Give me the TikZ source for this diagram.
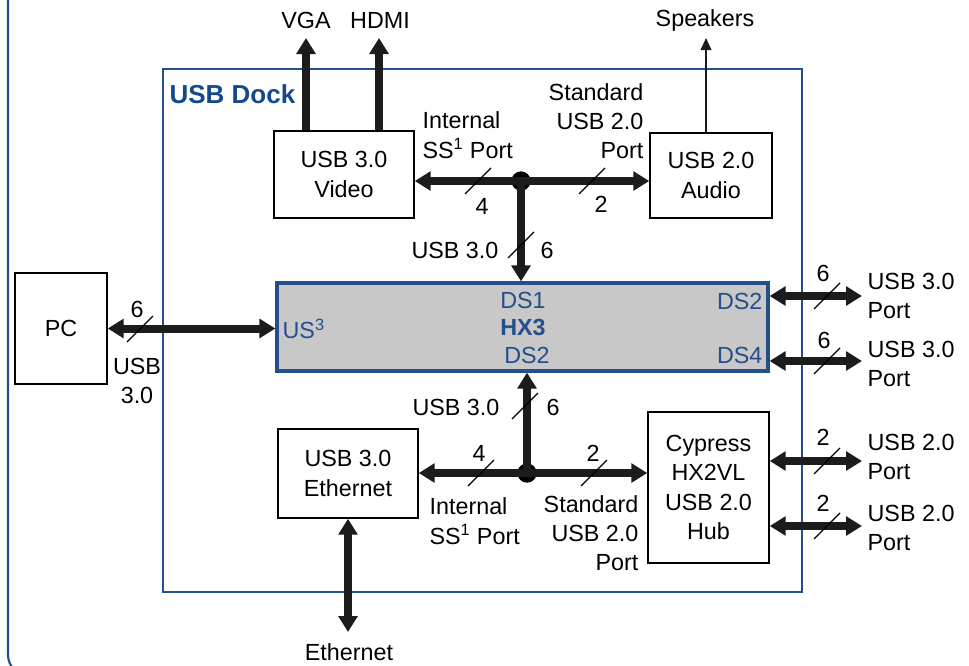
\documentclass[tikz,border=0pt]{standalone}
\usepackage{fontspec}
\setmainfont{Liberation Sans}
\usetikzlibrary{arrows.meta}
\definecolor{dockblue}{RGB}{36,78,140}
\definecolor{textblue}{RGB}{22,72,140}
\definecolor{hxgray}{RGB}{200,200,200}
\definecolor{arrowc}{RGB}{28,28,28}
\tikzset{
  every node/.style={font=\fontsize{17.5}{22}\selectfont, inner sep=1pt},
  box/.style={draw=black, line width=1.1pt, fill=white, align=center},
  hxbox/.style={draw=dockblue, line width=2.4pt, fill=hxgray},
  dockbox/.style={draw=dockblue, line width=1.6pt},
  outerbox/.style={draw=dockblue, line width=1.6pt, rounded corners=16pt},
  fat/.style={line width=6pt, draw=arrowc, -{Triangle[length=12pt,width=14pt]}},
  fatboth/.style={line width=6pt, draw=arrowc, {Triangle[length=12pt,width=14pt]}-{Triangle[length=12pt,width=14pt]}},
  thinarrow/.style={line width=1.4pt, draw=arrowc, -{Triangle[length=9pt,width=8pt]}},
  slashmark/.style={line width=1pt, draw=black},
  dot/.style={circle, fill=black, minimum size=14.5pt, inner sep=0pt},
  hxtext/.style={text=dockblue},
}
\begin{document}
\begin{tikzpicture}[x=0.75pt,y=-0.75pt]
\useasboundingbox (0,0) rectangle (969,665);
\begin{scope}
  \clip (0,0) rectangle (969,665);
  \draw[outerbox] (8,-60) rectangle (1060,676);
\end{scope}

% dock
\node[dockbox, minimum width=479.25pt, minimum height=392.25pt] (dock) at (482.5,330.5) {};
\node[anchor=west, text=textblue, font=\fontsize{19.5}{22}\selectfont\bfseries] (docklbl) at (168,94) {USB Dock};

% boxes
\node[box, minimum width=105pt, minimum height=65.25pt] (video) at (344,174.5) {USB 3.0\\Video};
\node[box, minimum width=91.5pt, minimum height=63.75pt] (audio) at (711,175.5) {USB 2.0\\Audio};
\node[hxbox, minimum width=368.25pt, minimum height=66pt] (hx3) at (522.5,327) {};
\node[box, minimum width=69pt, minimum height=83.25pt] (pc) at (61,328.5) {PC};
\node[box, minimum width=90.75pt, minimum height=113.25pt] (cyp) at (708.5,487.5) {Cypress\\HX2VL\\USB 2.0\\Hub};
\node[box, minimum width=105pt, minimum height=66.75pt] (eth) at (348,473.5) {USB 3.0\\Ethernet};

% HX3 inner labels
\node[hxtext] (ds1) at (523,300) {DS1};
\node[hxtext, font=\fontsize{17.5}{22}\selectfont\bfseries] (hxname) at (523,327) {HX3};
\node[hxtext] (ds2b) at (527,355) {DS2};
\node[hxtext, anchor=east] (ds2r) at (764,301) {DS2};
\node[hxtext, anchor=east] (ds4r) at (764,355) {DS4};
\node[hxtext, anchor=west] (us3) at (281,329) {US\textsuperscript{3}};

% top external labels
\node (vga) at (306,20) {VGA};
\node (hdmi) at (380,20) {HDMI};
\node (spk) at (705,20) {Speakers};
\coordinate (vgaT) at (306,38);
\coordinate (hdmiT) at (379,38);
\coordinate (spkT) at (706,38);
\draw[fat] (vgaT |- video.north) -- (vgaT);
\draw[fat] (hdmiT |- video.north) -- (hdmiT);
\draw[thinarrow] (spkT |- audio.north) -- (spkT);

% top junction
\node[dot] (j1) at (521,181) {};
\draw[fat] (j1.center) -- (j1 -| video.east);
\draw[fat] (j1.center) -- (j1 -| audio.west);
\draw[fat] (j1.center) -- (j1 |- hx3.north);
\draw[slashmark] (478,181) +(-13,13) -- +(13,-13);
\draw[slashmark] (592,181) +(-13,13) -- +(13,-13);
\draw[slashmark] (521,245) +(-13,13) -- +(13,-13);
\node (n4a) at (482,206) {4};
\node (n2a) at (601,204) {2};
\node (usbv1) at (455,250) {USB 3.0};
\node (n6a) at (547,250) {6};
\node[anchor=west, align=left] (int1) at (421,135) {Internal\\SS\textsuperscript{1} Port};
\node[anchor=east, align=right] (std1) at (645,121) {Standard\\USB 2.0\\Port};

% bottom junction
\node[dot] (j2) at (527,473) {};
\draw[fat] (j2.center) -- (j2 |- hx3.south);
\draw[fat] (j2.center) -- (j2 -| eth.east);
\draw[fat] (j2.center) -- (j2 -| cyp.west);
\draw[slashmark] (525,406) +(-13,13) -- +(13,-13);
\draw[slashmark] (481,473) +(-13,13) -- +(13,-13);
\draw[slashmark] (594,473) +(-13,13) -- +(13,-13);
\node (usbv2) at (456,407) {USB 3.0};
\node (n6b) at (553,407) {6};
\node (n4b) at (479,453) {4};
\node (n2b) at (593,453) {2};
\node[anchor=west, align=left] (int2) at (428,521) {Internal\\SS\textsuperscript{1} Port};
\node[anchor=east, align=right] (std2) at (640,533) {Standard\\USB 2.0\\Port};

% PC link
\draw[fatboth] (pc.east) -- (pc.east -| hx3.west);
\draw[slashmark] (140,329) +(-13,13) -- +(13,-13);
\node (n6pc) at (137,309) {6};
\node[align=center] (usbpc) at (137,381) {USB\\3.0};

% right ports
\coordinate (p1) at (862,296);
\coordinate (p2) at (862,361);
\coordinate (p3) at (862,461);
\coordinate (p4) at (862,526);
\draw[fatboth] (p1 -| hx3.east) -- (p1);
\draw[fatboth] (p2 -| hx3.east) -- (p2);
\draw[fatboth] (p3 -| cyp.east) -- (p3);
\draw[fatboth] (p4 -| cyp.east) -- (p4);
\draw[slashmark] (827,296) +(-13,13) -- +(13,-13);
\draw[slashmark] (827,361) +(-13,13) -- +(13,-13);
\draw[slashmark] (827,461) +(-13,13) -- +(13,-13);
\draw[slashmark] (827,526) +(-13,13) -- +(13,-13);
\node (n6p1) at (823,273) {6};
\node (n6p2) at (824,340) {6};
\node (n2p3) at (823,437) {2};
\node (n2p4) at (823,503) {2};
\node[anchor=west, align=left] (l1) at (866,296) {USB 3.0\\Port};
\node[anchor=west, align=left] (l2) at (866,364) {USB 3.0\\Port};
\node[anchor=west, align=left] (l3) at (866,457) {USB 2.0\\Port};
\node[anchor=west, align=left] (l4) at (866,528) {USB 2.0\\Port};

% ethernet
\coordinate (ethT) at (348,632);
\draw[fatboth] (eth.south) -- (ethT);
\node (ethlbl) at (349,652) {Ethernet};
\end{tikzpicture}
\end{document}
